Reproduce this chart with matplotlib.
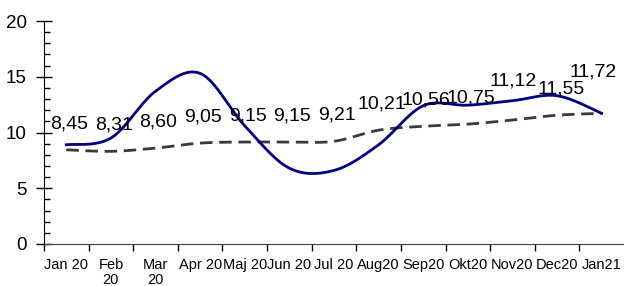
import numpy as np
import matplotlib
matplotlib.use("Agg")
import matplotlib.pyplot as plt
from matplotlib import font_manager

categories = ["Jan 20", "Feb\n20", "Mar\n20", "Apr 20", "Maj 20", "Jun 20", "Jul 20",
              "Aug20", "Sep20", "Okt20", "Nov20", "Dec20", "Jan21"]
solid_values = [8.9, 9.5, 13.7, 15.3, 10.6, 6.8, 6.6, 8.9, 12.4, 12.45, 12.85, 13.3, 11.72]
dashed_values = [8.45, 8.31, 8.60, 9.05, 9.15, 9.15, 9.21, 10.21, 10.56, 10.75, 11.12, 11.55, 11.72]
label_texts = ["8,45", "8,31", "8,60", "9,05", "9,15", "9,15", "9,21", "10,21", "10,56",
               "10,75", "11,12", "11,55", "11,72"]
y_ticks = [0, 5, 10, 15, 20]

# label offsets in pixels (dx, dy)
label_offsets = [(3, 26)] * 10 + [(1, 39), (4, 26), (-9, 41)]

names = {f.name for f in font_manager.fontManager.ttflist}
narrow = "Liberation Sans Narrow" if "Liberation Sans Narrow" in names else "Liberation Sans"
plt.rcParams['font.family'] = ['Liberation Sans', 'DejaVu Sans']


def smooth(xs, ys, n=40):
    xs = np.asarray(xs, float)
    ys = np.asarray(ys, float)
    P = np.column_stack([xs, ys])
    out = []
    m = len(P)
    for i in range(m - 1):
        p0 = P[max(i - 1, 0)]
        p1 = P[i]
        p2 = P[i + 1]
        p3 = P[min(i + 2, m - 1)]
        c1 = p1 + (p2 - p0) / 6.0
        c2 = p2 - (p3 - p1) / 6.0
        t = np.linspace(0, 1, n)[:, None]
        seg = ((1 - t) ** 3) * p1 + 3 * ((1 - t) ** 2) * t * c1 + 3 * (1 - t) * t ** 2 * c2 + t ** 3 * p2
        if i > 0:
            seg = seg[1:]
        out.append(seg)
    out = np.vstack(out)
    return out[:, 0], out[:, 1]


fig = plt.figure(figsize=(6.24, 2.86), dpi=100)
ax = fig.add_axes([44 / 624, 42 / 286, 580 / 624, 223 / 286])

x = np.arange(len(categories))
sx, sy = smooth(x, dashed_values)
ax.plot(sx, sy, color="#3a3a3a", lw=2.0, dashes=(4.5, 2.4), solid_capstyle="butt")
sx2, sy2 = smooth(x, solid_values)
ax.plot(sx2, sy2, color="#000080", lw=2.0)

for xi, v, t, (dx, dy) in zip(x, dashed_values, label_texts, label_offsets):
    ax.annotate(t, (xi, v), xytext=(dx, dy), textcoords="offset pixels",
                ha="center", va="center", fontsize=14, family=[narrow, "Liberation Sans"],
                color="black")

ax.set_xlim(-0.5, len(categories) - 0.5)
ax.set_ylim(0, 20)
ax.set_yticks(y_ticks)
ax.set_yticklabels([str(v) for v in y_ticks], family=[narrow, "Liberation Sans"], fontsize=13.5)
ax.set_yticks(np.arange(0, 21, 1), minor=True)
ax.tick_params(axis="y", which="major", direction="inout", length=11, width=1, pad=7, color="black")
ax.tick_params(axis="y", which="minor", direction="in", length=4, width=1, color="black")

ax.set_xticks(x)
ax.set_xticklabels(categories, fontsize=10.5, linespacing=1.1)
ax.set_xticks(np.arange(-0.5, len(categories) - 1, 1), minor=True)
ax.tick_params(axis="x", which="major", length=0, pad=10)
ax.tick_params(axis="x", which="minor", direction="out", length=5, width=1, color="black")

for s in ["top", "right"]:
    ax.spines[s].set_visible(False)
ax.spines["left"].set_color("black")
ax.spines["bottom"].set_color("#404040")
ax.set_facecolor("white")
fig.patch.set_facecolor("white")

fig.savefig("out.png", dpi=100)
